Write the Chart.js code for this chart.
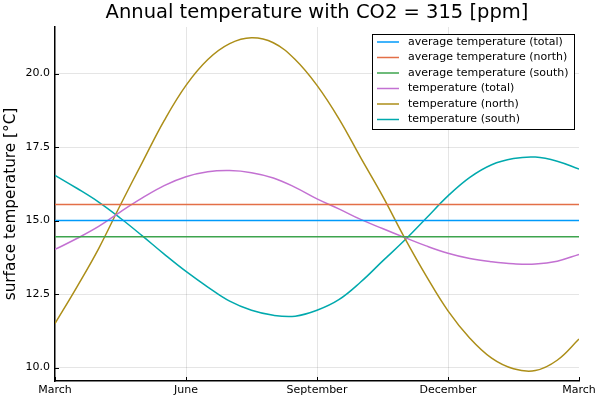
<!DOCTYPE html>
<html>
<head>
<meta charset="utf-8">
<script src="https://cdn.jsdelivr.net/npm/chart.js@4/dist/chart.umd.min.js"></script>
<style>
  html, body { margin: 0; padding: 0; background: #fff; }
  #chart { display: block; }
</style>
</head>
<body>
<canvas id="chart" width="600" height="400"></canvas>
<script>
// Months after March (0 = March, 12 = March next year)
const months = [0, 0.5, 1, 1.5, 2, 2.5, 3, 3.5, 4, 4.5, 5, 5.5, 6, 6.5, 7, 7.5, 8, 8.5, 9, 9.5, 10, 10.5, 11, 11.5, 12];

// Temperature curves [°C]
const tempTotal = [14.02, 14.39, 14.80, 15.30, 15.77, 16.19, 16.49, 16.66, 16.70, 16.63, 16.45, 16.13, 15.74, 15.40, 15.04, 14.73, 14.43, 14.14, 13.89, 13.71, 13.60, 13.53, 13.52, 13.62, 13.85];
const tempNorth = [11.50, 12.74, 14.05, 15.54, 16.98, 18.40, 19.60, 20.48, 21.02, 21.22, 21.05, 20.48, 19.60, 18.47, 17.14, 15.84, 14.43, 13.12, 11.93, 11.00, 10.32, 9.96, 9.90, 10.25, 10.97];
const tempSouth = [16.54, 16.10, 15.63, 15.08, 14.48, 13.86, 13.27, 12.74, 12.26, 11.95, 11.78, 11.75, 11.95, 12.31, 12.91, 13.62, 14.32, 15.08, 15.84, 16.47, 16.90, 17.11, 17.16, 17.02, 16.75];

// Yearly averages
const avgTotal = 15.00;
const avgNorth = 15.55;
const avgSouth = 14.45;

// Axis ticks
const xTickValues = [0, 3, 6, 9, 12];
const xTickLabels = ['March', 'June', 'September', 'December', 'March'];
const yTickValues = [10, 12.5, 15, 17.5, 20];

const chartTitle = 'Annual temperature with CO2 = 315 [ppm]';
const seriesLabels = [
    'average temperature (total)',
    'average temperature (north)',
    'average temperature (south)',
    'temperature (total)',
    'temperature (north)',
    'temperature (south)'
];
const seriesColors = ['#009AFA', '#E36F47', '#3EA44E', '#C371D2', '#AC8E18', '#00A9AD'];

const FONT = "'DejaVu Sans', sans-serif";
Chart.defaults.font.family = FONT;
Chart.defaults.color = '#000';

function toPoints(values) {
    return months.map((m, i) => ({ x: m, y: values[i] }));
}

const seriesValues = [
    months.map(() => avgTotal),
    months.map(() => avgNorth),
    months.map(() => avgSouth),
    tempTotal,
    tempNorth,
    tempSouth
];

// Title centred over the plot area (not the whole canvas)
const plotTitle = {
    id: 'plotTitle',
    afterDraw(chart) {
        const ctx = chart.ctx;
        const area = chart.chartArea;
        ctx.save();
        ctx.font = '19.5px ' + FONT;
        ctx.fillStyle = '#000';
        ctx.textAlign = 'center';
        ctx.textBaseline = 'middle';
        ctx.fillText(chartTitle, (area.left + area.right) / 2, 13);
        ctx.restore();
    }
};

// Legend drawn as a boxed panel inside the plot (upper right)
const boxLegend = {
    id: 'boxLegend',
    afterDraw(chart) {
        const ctx = chart.ctx;
        const area = chart.chartArea;
        ctx.save();
        ctx.font = '11px ' + FONT;
        let maxW = 0;
        chart.data.datasets.forEach(d => { maxW = Math.max(maxW, ctx.measureText(d.label).width); });
        const w = Math.round(36 + maxW + 6);
        const rowH = 15.5;
        const h = Math.round(rowH * chart.data.datasets.length + 2);
        const right = area.right - 5;
        const left = right - w;
        const top = area.top + 7;

        ctx.fillStyle = '#fff';
        ctx.fillRect(left, top, w, h);
        ctx.strokeStyle = '#000';
        ctx.lineWidth = 1;
        ctx.strokeRect(left + 0.5, top + 0.5, w, h);

        ctx.textBaseline = 'middle';
        chart.data.datasets.forEach((d, i) => {
            const y = top + 8 + i * rowH;
            ctx.strokeStyle = d.borderColor;
            ctx.lineWidth = 1.5;
            ctx.beginPath();
            ctx.moveTo(left + 5, y);
            ctx.lineTo(left + 27, y);
            ctx.stroke();
            ctx.fillStyle = '#000';
            ctx.fillText(d.label, left + 36, y);
        });
        ctx.restore();
    }
};

// Small inward tick marks on both axes
const innerTicks = {
    id: 'innerTicks',
    afterDraw(chart) {
        const ctx = chart.ctx;
        const area = chart.chartArea;
        const xs = chart.scales.x, ys = chart.scales.y;
        ctx.save();
        ctx.strokeStyle = '#000';
        ctx.lineWidth = 1;
        ctx.beginPath();
        xTickValues.forEach(v => {
            const px = Math.round(xs.getPixelForValue(v)) + 0.5;
            ctx.moveTo(px, area.bottom);
            ctx.lineTo(px, area.bottom - 4);
        });
        yTickValues.forEach(v => {
            const py = Math.round(ys.getPixelForValue(v)) + 0.5;
            ctx.moveTo(area.left, py);
            ctx.lineTo(area.left + 4, py);
        });
        ctx.stroke();
        ctx.restore();
    }
};

const gridColor = 'rgba(0,0,0,0.1)';

new Chart(document.getElementById('chart'), {
    type: 'line',
    data: {
        datasets: seriesLabels.map((label, i) => ({
            label: label,
            data: toPoints(seriesValues[i]),
            borderColor: seriesColors[i],
            backgroundColor: seriesColors[i],
            borderWidth: 1.5,
            pointRadius: 0,
            tension: 0.4,
            fill: false
        }))
    },
    options: {
        responsive: false,
        animation: false,
        layout: { padding: { left: 0, right: 21, top: 27, bottom: 0 } },
        plugins: {
            legend: { display: false },
            tooltip: { enabled: false },
            title: { display: false }
        },
        scales: {
            x: {
                type: 'linear',
                min: 0,
                max: 12,
                afterBuildTicks: s => { s.ticks = xTickValues.map(v => ({ value: v })); },
                afterFit: s => { s.height = 19; },
                ticks: {
                    autoSkip: false,
                    maxRotation: 0,
                    padding: 3,
                    font: { size: 11 },
                    color: '#000',
                    callback: v => xTickLabels[xTickValues.indexOf(v)]
                },
                grid: {
                    drawTicks: false,
                    color: c => (c.tick && (c.tick.value === 0 || c.tick.value === 12)) ? 'rgba(0,0,0,0)' : gridColor
                },
                border: { display: true, color: '#000', width: 1.5 }
            },
            y: {
                min: 9.544,
                max: 21.585,
                afterBuildTicks: s => { s.ticks = yTickValues.map(v => ({ value: v })); },
                afterFit: s => { s.width = 55; },
                ticks: {
                    padding: 5,
                    font: { size: 11 },
                    color: '#000',
                    callback: v => v.toFixed(1)
                },
                grid: { drawTicks: false, color: gridColor },
                border: { display: true, color: '#000', width: 1.5 },
                title: {
                    display: true,
                    text: 'surface temperature [°C]',
                    font: { size: 15.3 },
                    color: '#000',
                    padding: { top: 1.5, bottom: 0 }
                }
            }
        }
    },
    plugins: [plotTitle, boxLegend, innerTicks]
});
</script>
</body>
</html>
